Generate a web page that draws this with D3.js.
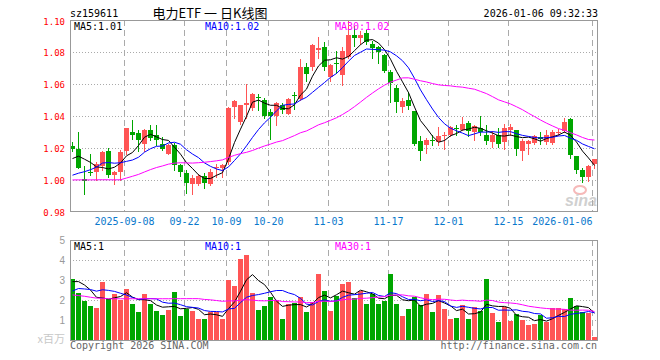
<!DOCTYPE html>
<html><head><meta charset="utf-8">
<script src="https://cdn.jsdelivr.net/npm/d3@7"></script>
<style>body{margin:0;background:#fff}svg{display:block}</style>
</head><body>
<svg id="c" width="660" height="360"></svg>
<script>
// ---------------- data ----------------
const dates = ["2025-08-26","2025-08-27","2025-08-28","2025-08-29","2025-09-01","2025-09-02","2025-09-03","2025-09-04","2025-09-05","2025-09-08","2025-09-09","2025-09-10","2025-09-11","2025-09-12","2025-09-15","2025-09-16","2025-09-17","2025-09-18","2025-09-19","2025-09-22","2025-09-23","2025-09-24","2025-09-25","2025-09-26","2025-09-29","2025-09-30","2025-10-09","2025-10-10","2025-10-13","2025-10-14","2025-10-15","2025-10-16","2025-10-17","2025-10-20","2025-10-21","2025-10-22","2025-10-23","2025-10-24","2025-10-27","2025-10-28","2025-10-29","2025-10-30","2025-10-31","2025-11-03","2025-11-04","2025-11-05","2025-11-06","2025-11-07","2025-11-10","2025-11-11","2025-11-12","2025-11-13","2025-11-14","2025-11-17","2025-11-18","2025-11-19","2025-11-20","2025-11-21","2025-11-24","2025-11-25","2025-11-26","2025-11-27","2025-11-28","2025-12-01","2025-12-02","2025-12-03","2025-12-04","2025-12-05","2025-12-08","2025-12-09","2025-12-10","2025-12-11","2025-12-12","2025-12-15","2025-12-16","2025-12-17","2025-12-18","2025-12-19","2025-12-22","2025-12-23","2025-12-24","2025-12-25","2025-12-26","2025-12-29","2025-12-30","2025-12-31","2026-01-05","2026-01-06"];

const open = [1.021,1.0195,1.0005,1.005,1.005,1.009,1.018,1.003,1.0047,1.018,
1.030,1.0294,1.0225,1.031,1.028,1.0225,1.0163,1.022,1.0096,1.0044,
0.9977,0.9977,1.0023,0.9977,1.0077,1.0075,1.0113,1.0454,1.0363,1.0467,
1.045,1.052,1.050,1.0427,1.040,1.0471,1.0415,1.053,1.0506,1.0704,
1.0704,1.0815,1.083,1.0644,1.073,1.0658,1.0767,1.0907,1.0885,1.092,
1.085,1.083,1.078,1.0675,1.0575,1.0454,1.0502,1.0429,1.0242,1.0217,
1.0248,1.024,1.0277,1.0283,1.0325,1.0315,1.0354,1.030,1.0325,1.0283,
1.0235,1.0279,1.0235,1.031,1.031,1.0183,1.0225,1.0231,1.027,1.0238,
1.0231,1.0298,1.0304,1.0383,1.0152,1.0065,1.0019,1.010];
const high = [1.024,1.030,1.009,1.016,1.0115,1.018,1.020,1.0055,1.0185,1.0325,
1.0375,1.031,1.032,1.0343,1.0344,1.027,1.0225,1.023,1.010,1.0065,
1.003,1.004,1.0044,1.007,1.0103,1.0102,1.0455,1.050,1.047,1.060,
1.0545,1.054,1.0515,1.0446,1.049,1.048,1.051,1.055,1.0758,1.0731,
1.0852,1.0894,1.0863,1.0727,1.0804,1.083,1.0995,1.096,1.093,1.094,
1.087,1.0835,1.079,1.069,1.0596,1.0513,1.055,1.043,1.0273,1.0263,
1.028,1.0333,1.0298,1.0335,1.0342,1.0394,1.037,1.0342,1.040,1.0346,
1.0308,1.0325,1.035,1.035,1.0315,1.0258,1.0252,1.0283,1.030,1.031,
1.031,1.032,1.0388,1.0385,1.0153,1.0075,1.0096,1.0133];
const low = [1.018,1.0072,0.991,1.003,1.000,1.006,1.002,0.9975,1.000,1.016,
1.0257,1.018,1.018,1.025,1.022,1.019,1.016,1.006,1.0023,0.992,
0.991,0.997,0.995,0.997,1.0017,1.002,1.010,1.0387,1.035,1.0387,
1.044,1.044,1.039,1.0258,1.0346,1.042,1.041,1.0446,1.050,1.0617,
1.069,1.0763,1.069,1.062,1.067,1.0596,1.0765,1.0835,1.085,1.085,
1.0763,1.0731,1.0675,1.049,1.0425,1.0425,1.0446,1.0217,1.0127,1.0169,
1.0217,1.022,1.0196,1.0275,1.0283,1.031,1.0273,1.0248,1.0283,1.0225,
1.0206,1.0206,1.0196,1.028,1.0158,1.0127,1.0163,1.0225,1.0225,1.0225,
1.0225,1.028,1.030,1.014,1.0044,0.9988,0.9992,1.0075];
const close = [1.0195,1.0075,0.9995,1.0045,1.010,1.0175,1.003,1.005,1.0175,1.0325,
1.028,1.0247,1.031,1.0265,1.0247,1.0195,1.022,1.0096,1.005,0.998,
1.0013,1.0023,0.998,1.005,1.008,1.0096,1.045,1.0496,1.0467,1.048,
1.054,1.0515,1.040,1.040,1.048,1.044,1.0506,1.0525,1.0704,1.0663,
1.0846,1.0825,1.0704,1.072,1.0725,1.0804,1.0908,1.0885,1.0905,1.0865,
1.0825,1.080,1.068,1.0606,1.0485,1.0496,1.0465,1.0227,1.0183,1.0252,
1.0244,1.0275,1.028,1.0331,1.0323,1.035,1.0308,1.0336,1.0298,1.0246,
1.0279,1.0225,1.0325,1.0331,1.0196,1.0246,1.0242,1.0273,1.0256,1.0279,
1.030,1.030,1.0363,1.0158,1.0065,1.0017,1.0085,1.013];
// volume, millions of shares
const volume = [3.05,2.35,1.97,1.70,1.60,2.90,2.03,2.32,2.02,2.55,
1.80,1.40,2.30,1.80,1.45,1.25,1.50,2.40,1.20,1.57,
1.45,1.05,1.05,1.38,1.38,1.05,3.00,2.70,4.05,4.25,
2.35,1.50,1.70,2.15,2.00,1.05,1.80,1.85,2.15,1.40,
1.90,3.30,2.47,1.45,2.20,2.80,2.90,2.10,2.45,1.80,
2.30,1.80,1.97,3.30,1.80,1.20,1.55,2.15,1.75,2.30,
1.40,2.25,1.55,1.05,1.10,1.75,1.05,1.63,1.45,3.05,
1.35,0.90,1.65,0.97,1.30,1.00,0.77,0.80,1.25,0.90,
1.60,1.60,1.55,2.10,1.70,1.40,1.35,0.17];
// sessions before the first visible one (estimated so the moving averages start where the picture shows)
const priorCloses = [1.006,1.000,1.004,1.009,1.016,1.004,1.006,1.016,
1.000,0.995,0.990,0.985,0.982,0.986,0.990,0.988,0.991,
0.997,1.002,1.004,0.995,0.990,0.992,0.994,0.992,
1.000,1.009,1.0145,1.024];
const priorVolumes = [3.3,3.0,3.2,2.9,3.0,2.95,
2.3,2.0,2.5,1.8,1.4,2.3,1.8,1.45,1.25,1.5,2.3,1.2,1.55,1.4,
1.1,2.2,2.0,2.4,2.2,2.35,2.82,2.95,3.43];

const priceTicks = [1.10,1.08,1.06,1.04,1.02,1.00,0.98];
const volTicks = [5,4,3,2,1];
const tickDates = ["2025-09-08","2025-09-22","2025-10-09","2025-10-20","2025-11-03","2025-11-17","2025-12-01","2025-12-15","2026-01-06"];
const tickLabels = ["2025-09-08","09-22","10-09","10-20","11-03","11-17","12-01","12-15","2026-01-06"];
const maPeriods = [5,10,30];
const maColors = ["#000000","#0000ff","#ff00ff"];
const title = "电力ETF 一 日K线图";
const code = "sz159611";
const stamp = "2026-01-06 09:32:33";

// ---------------- layout ----------------
const L=70, R=598, T=20, B=212, VT=240, VB=340;
const RED="#ff5555", GREEN="#00a600", GRID="#aaaaaa", FRAME="#999999";
const MONO="'DejaVu Sans Mono', monospace";

const svg = d3.select("#c");
const x = d3.scalePoint().domain(dates).range([L+2.5, R-3.5]);
const y = d3.scaleLinear().domain([0.98,1.10]).range([B,T]);
const yv = d3.scaleLinear().domain([0,5]).range([VB,VT]);

function movingAvg(prior, vals, p){
  const all = prior.concat(vals), off = prior.length;
  return vals.map((_,i)=> d3.mean(all.slice(off+i-p+1, off+i+1)));
}
const priceMA = maPeriods.map(p=>movingAvg(priorCloses, close, p));
const volMA = maPeriods.map(p=>movingAvg(priorVolumes, volume, p));

const candles = dates.map((d,i)=>({d, o:open[i], h:high[i], l:low[i], c:close[i], v:volume[i]}));
const col = k => k.c >= k.o ? RED : GREEN;

// ---------------- grids ----------------
const g = svg.append("g");
g.selectAll("line.hg").data(priceTicks.slice(1,-1)).join("line")
  .attr("x1",L).attr("x2",R).attr("y1",t=>Math.round(y(t))+0.5).attr("y2",t=>Math.round(y(t))+0.5)
  .attr("stroke",GRID).attr("stroke-dasharray","1,2");
g.selectAll("line.vg").data(volTicks.slice(1)).join("line")
  .attr("x1",L).attr("x2",R).attr("y1",t=>Math.round(yv(t))+0.5).attr("y2",t=>Math.round(yv(t))+0.5)
  .attr("stroke",GRID).attr("stroke-dasharray","1,2");
[[T,B],[VT,VB]].forEach(([a,b])=>{
  g.append("g").selectAll("line").data(tickDates).join("line")
    .attr("x1",d=>x(d)-2).attr("x2",d=>x(d)-2).attr("y1",a).attr("y2",b)
    .attr("stroke",GRID).attr("stroke-dasharray","6,4");
});

// ---------------- watermark ----------------
const wm = svg.append("g").attr("opacity",0.55);
wm.append("ellipse").attr("cx",580).attr("cy",190).attr("rx",6).attr("ry",4)
  .attr("fill","none").attr("stroke","#f08080").attr("stroke-width",2);
wm.append("text").attr("x",597).attr("y",206).attr("text-anchor","end")
  .attr("font-family","'Liberation Sans',Arial,sans-serif").attr("font-style","italic").attr("font-weight","bold")
  .attr("font-size",16).attr("fill","#aaaaaa").text("sina");

// ---------------- candles ----------------
const cg = svg.append("g").attr("shape-rendering","crispEdges");
cg.selectAll("line").data(candles).join("line")
  .attr("x1",k=>x(k.d)).attr("x2",k=>x(k.d))
  .attr("y1",k=>Math.round(y(k.h))).attr("y2",k=>Math.round(y(k.l))+1)
  .attr("stroke",col);
cg.selectAll("rect").data(candles).join("rect")
  .attr("x",k=>x(k.d)-2.5).attr("width",5)
  .attr("y",k=>Math.round(y(Math.max(k.o,k.c))))
  .attr("height",k=>Math.max(1, Math.round(y(Math.min(k.o,k.c))) - Math.round(y(Math.max(k.o,k.c)))))
  .attr("fill",col);

// volume bars
const vg = svg.append("g").attr("shape-rendering","crispEdges");
vg.selectAll("rect").data(candles).join("rect")
  .attr("x",k=>x(k.d)-2.5).attr("width",5)
  .attr("y",k=>Math.round(yv(k.v))).attr("height",k=>VB-Math.round(yv(k.v)))
  .attr("fill",col);

// ---------------- moving averages ----------------
priceMA.forEach((arr,j)=>{
  svg.append("path").datum(arr)
    .attr("d", d3.line().x((v,i)=>x(dates[i])).y(v=>y(v)))
    .attr("fill","none").attr("stroke",maColors[j]).attr("stroke-width",1);
});
volMA.forEach((arr,j)=>{
  svg.append("path").datum(arr)
    .attr("d", d3.line().x((v,i)=>x(dates[i])).y(v=>yv(v)))
    .attr("fill","none").attr("stroke",maColors[j]).attr("stroke-width",1);
});

// ---------------- frames ----------------
svg.append("rect").attr("x",L+0.5).attr("y",T+0.5).attr("width",R-L-1).attr("height",B-T-1)
  .attr("fill","none").attr("stroke",FRAME);
svg.append("rect").attr("x",L+0.5).attr("y",VT+0.5).attr("width",R-L-1).attr("height",VB-VT)
  .attr("fill","none").attr("stroke",FRAME);

// ---------------- texts ----------------
const txt = (xx,yy,s,opt={}) => svg.append("text").attr("x",xx).attr("y",yy)
  .attr("font-family",opt.ff||MONO).attr("font-size",opt.fs||10)
  .attr("fill",opt.fill||"#000").attr("text-anchor",opt.anchor||"start").text(s);

txt(L, 17, code);
txt(210, 18, title, {ff:"'Noto Sans CJK SC',sans-serif", fs:13, anchor:"middle"});
txt(R, 17, stamp, {anchor:"end"});

priceTicks.forEach((t,i)=>{
  const yy = Math.round(y(t)) + (i===0 ? 5 : 3.5);
  txt(65, yy, t.toFixed(2), {fs:9, fill:"#ff0000", anchor:"end"});
});
volTicks.forEach(t=>{
  txt(65, Math.round(yv(t))+3.5, String(t), {ff:"'Liberation Sans',Arial,sans-serif", fs:10, fill:"#999999", anchor:"end"});
});
txt(65, 343, "x百万", {ff:"'Noto Sans CJK SC',sans-serif", fs:11, fill:"#c8c8c8", anchor:"end"});

tickDates.forEach((d,i)=>{
  const last = i===tickDates.length-1;
  txt(last ? x(d)-2 : x(d)-2, 225, tickLabels[i], {fill:"#0a78cc", anchor: last ? "end" : "middle"});
});

const maX = [74, 205, 335];
maPeriods.forEach((p,j)=>{
  const lastP = priceMA[j][priceMA[j].length-1];
  txt(maX[j], 30, "MA"+p+":"+lastP.toFixed(2), {fill:maColors[j]});
  const lastV = volMA[j][volMA[j].length-1];
  txt(maX[j], 250, "MA"+p+":"+Math.round(lastV), {fill:maColors[j]});
});

txt(L, 349, "Copyright 2026 SINA.COM", {fill:"#666666"});
txt(R-1, 349, "http://finance.sina.com.cn", {fill:"#666666", anchor:"end"});
</script>
</body></html>
